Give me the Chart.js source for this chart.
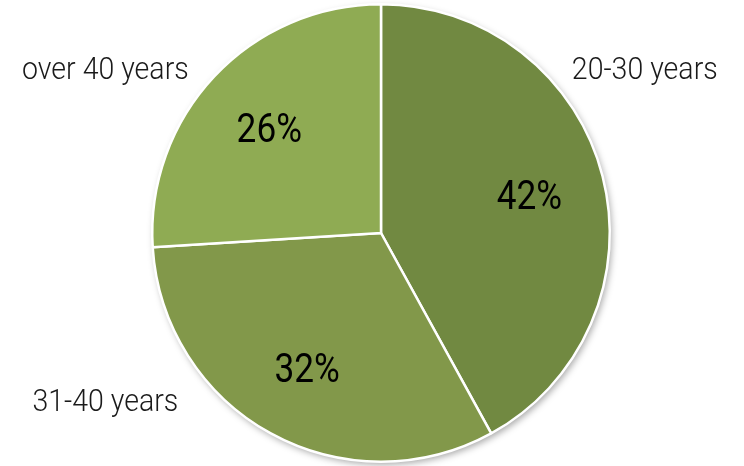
<!DOCTYPE html>
<html>
<head>
<meta charset="utf-8">
<script src="https://cdn.jsdelivr.net/npm/chart.js@4/dist/chart.umd.min.js"></script>
<style>
  html, body { margin: 0; padding: 0; background: #fff; }
  #wrap { width: 744px; height: 466px; position: relative; }
</style>
</head>
<body>
<div id="wrap"><canvas id="pie"></canvas></div>
<script>
// --- data ---
const categories = ['20-30 years', '31-40 years', 'over 40 years'];
const shares = [42, 32, 26];
const sliceColors = ['#718941', '#82984a', '#8fab53'];

// outside label spot, in radius units from the centre (Excel "best fit" look)
const outsideLabelAt = [[1.153, -0.72], [-1.205, 0.73], [-1.205, -0.72]];

// soft shadow under the whole pie
const pieShadow = {
    id: 'pieShadow',
    beforeDatasetsDraw(chart) {
        const arc = chart.getDatasetMeta(0).data[0];
        if (!arc) return;
        const ctx = chart.ctx;
        ctx.save();
        ctx.shadowColor = 'rgba(0,0,0,0.35)';
        ctx.shadowBlur = 7;
        ctx.shadowOffsetX = 2;
        ctx.shadowOffsetY = 3;
        ctx.fillStyle = '#ffffff';
        ctx.beginPath();
        ctx.arc(arc.x, arc.y, arc.outerRadius, 0, Math.PI * 2);
        ctx.fill();
        ctx.restore();
    }
};

// draw text squeezed sideways (the original uses a condensed face)
function squeezed(ctx, text, x, y, size, weight, sx) {
    ctx.save();
    ctx.translate(x, y + size * 0.711 / 2);
    ctx.scale(sx, 1);
    ctx.font = weight + ' ' + size + 'px Roboto';
    ctx.fillText(text, 0, 0);
    ctx.restore();
}

// percentages inside, category names outside
const pieLabels = {
    id: 'pieLabels',
    afterDatasetsDraw(chart) {
        const ctx = chart.ctx;
        const meta = chart.getDatasetMeta(0);
        ctx.save();
        ctx.textAlign = 'center';
        ctx.textBaseline = 'alphabetic';
        meta.data.forEach((arc, i) => {
            const mid = (arc.startAngle + arc.endAngle) / 2;
            const r = arc.outerRadius;
            ctx.fillStyle = '#000';
            squeezed(ctx, shares[i] + '%',
                arc.x + Math.cos(mid) * r * 0.67, arc.y + Math.sin(mid) * r * 0.67, 40, 400, 0.88);

            const [fx, fy] = outsideLabelAt[i];
            ctx.fillStyle = '#1a1a1a';
            squeezed(ctx, categories[i], arc.x + fx * r, arc.y + fy * r, 31, 300, 0.92);
        });
        ctx.restore();
    }
};

new Chart(document.getElementById('pie'), {
    type: 'pie',
    data: {
        labels: categories,
        datasets: [{
            data: shares,
            backgroundColor: sliceColors,
            borderColor: '#ffffff',
            borderWidth: 2.5
        }]
    },
    options: {
        responsive: true,
        maintainAspectRatio: false,
        animation: false,
        layout: { padding: { top: 3, bottom: 3, left: 18, right: 0 } },
        plugins: { legend: { display: false }, tooltip: { enabled: false } }
    },
    plugins: [pieShadow, pieLabels]
});
</script>
</body>
</html>
